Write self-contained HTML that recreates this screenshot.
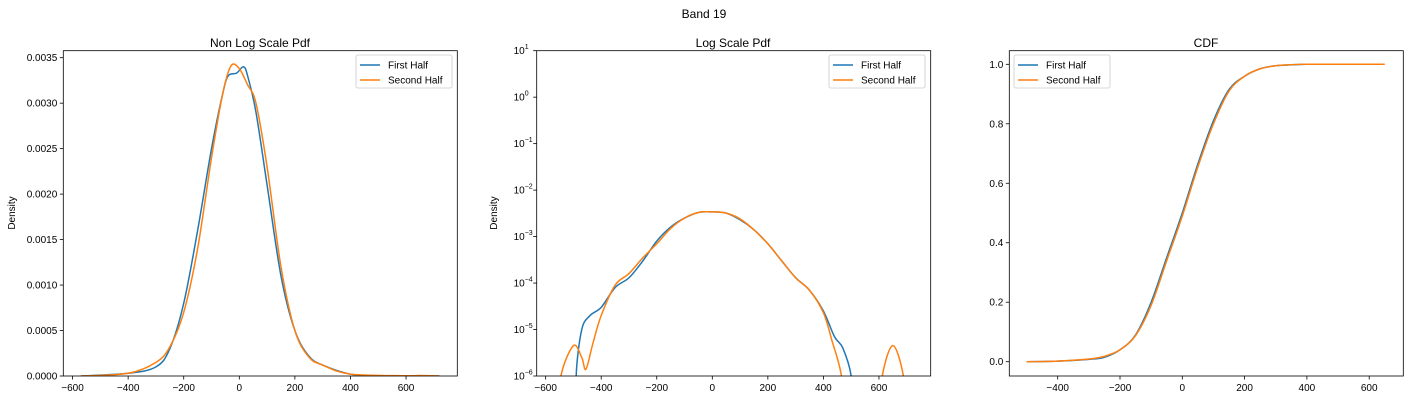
<!DOCTYPE html>
<html><head><meta charset="utf-8"><style>
html,body{margin:0;padding:0;background:#fff;width:1409px;height:400px;overflow:hidden;}
svg{display:block;font-family:"Liberation Sans","DejaVu Sans",sans-serif;}
</style></head><body>
<svg id="fig" width="1409" height="400" viewBox="0 0 1409 400" xmlns="http://www.w3.org/2000/svg">
<text x="704" y="18" font-size="12" text-anchor="middle">Band 19</text>
</svg>
<script>
// Panel 1: non-log pdf
const p1X1=[-570,-400,-300,-250,-200,-150,-100,-60,-40,-10,15,30,60,100,150,200,250,300,400,500,720];
const p1Y1=[0,0.00003,0.0001,0.0003,0.0008,0.0016,0.0025,0.0031,0.0033,0.00333,0.0034,0.0033,0.0029,0.0021,0.0011,0.0005,0.00022,0.00012,0.00002,0.000003,0];
const p1X2=[-570,-400,-300,-250,-200,-150,-100,-60,-30,0,30,60,100,150,200,250,300,400,600,650,720];
const p1Y2=[0,0.00003,0.00015,0.00032,0.0007,0.0014,0.0024,0.0031,0.00341,0.00338,0.0032,0.0030,0.0023,0.0012,0.0005,0.00021,0.00012,0.00002,0.000003,0.000005,0];
const p1XTicks=[-600,-400,-200,0,200,400,600];
const p1YTicks=[0,0.0005,0.001,0.0015,0.002,0.0025,0.003,0.0035];
const p1YLabels=["0.0000","0.0005","0.0010","0.0015","0.0020","0.0025","0.0030","0.0035"];
// Panel 2: log pdf
const p2X1=[-480,-490,-470,-440,-400,-350,-300,-250,-200,-150,-100,-50,0,50,100,150,200,250,300,350,400,440,470,500,510];
const p2Y1=[1e-7,1e-6,1e-5,2e-5,3e-5,8e-5,1.3e-4,3e-4,8e-4,1.6e-3,2.5e-3,3.3e-3,3.4e-3,3.2e-3,2.3e-3,1.4e-3,7e-4,3e-4,1.3e-4,7e-5,2.5e-5,7e-6,4e-6,1e-6,1e-7];
const p2X2=[-555,-545,-500,-470,-455,-430,-400,-350,-300,-250,-200,-150,-100,-50,0,50,100,150,200,250,300,350,400,430,465,475];
const p2Y2=[1e-7,1e-6,4.5e-6,2.5e-6,1.4e-6,5e-6,2e-5,9e-5,1.6e-4,3.5e-4,7e-4,1.5e-3,2.5e-3,3.3e-3,3.4e-3,3.2e-3,2.4e-3,1.4e-3,7e-4,3e-4,1.3e-4,7e-5,2.3e-5,6e-6,1e-6,1e-7];
const p2X3=[600,612,650,688,700];
const p2Y3=[1e-7,1e-6,4.5e-6,1e-6,1e-7];
const p2XTicks=[-600,-400,-200,0,200,400,600];
const p2YExp=[1,0,-1,-2,-3,-4,-5,-6];
// Panel 3: CDF
const p3X1=[-500,-400,-300,-250,-200,-150,-100,-50,0,50,100,150,200,250,300,400,460];
const p3Y1=[0,0.002,0.008,0.015,0.04,0.09,0.2,0.35,0.5,0.665,0.81,0.915,0.96,0.985,0.995,1,1];
const p3X2=[-500,-400,-300,-250,-200,-150,-100,-50,0,50,100,150,200,250,300,400,650];
const p3Y2=[0,0.002,0.009,0.018,0.04,0.088,0.19,0.34,0.49,0.655,0.8,0.91,0.96,0.985,0.995,1,1];
const p3XTicks=[-400,-200,0,200,400,600];
const p3YTicks=[0,0.2,0.4,0.6,0.8,1.0];

const NS="http://www.w3.org/2000/svg";
const fig=document.getElementById('fig');
function mk(tag,attrs,parent){const e=document.createElementNS(NS,tag);for(const k in attrs)e.setAttribute(k,attrs[k]);(parent||fig).appendChild(e);return e;}
function smooth(pts){let d='M'+pts[0][0].toFixed(2)+','+pts[0][1].toFixed(2);
 for(let i=0;i<pts.length-1;i++){const p0=pts[Math.max(0,i-1)],p1=pts[i],p2=pts[i+1],p3=pts[Math.min(pts.length-1,i+2)];
  const c1=[p1[0]+(p2[0]-p0[0])/6,p1[1]+(p2[1]-p0[1])/6],c2=[p2[0]-(p3[0]-p1[0])/6,p2[1]-(p3[1]-p1[1])/6];
  d+=' C'+c1[0].toFixed(2)+','+c1[1].toFixed(2)+' '+c2[0].toFixed(2)+','+c2[1].toFixed(2)+' '+p2[0].toFixed(2)+','+p2[1].toFixed(2);}
 return d;}
function frame(L,T,R,B,id){
 const cp=mk('clipPath',{id:id});mk('rect',{x:L,y:T,width:R-L,height:B-T},cp);
}
function border(L,T,R,B){const r=mk('rect',{x:L,y:T,width:R-L,height:B-T,fill:'none',stroke:'#000','stroke-width':0.8});

}
function xTicks(ticks,sx,B,name){ticks.forEach(t=>{const x=sx(t);mk('line',{x1:x,x2:x,y1:B,y2:B+3.5,stroke:'#000','stroke-width':0.8});
 const tx=mk('text',{x:x,y:B+15,'font-size':10,'text-anchor':'middle'});tx.textContent=(t<0?'\u2212'+(-t):t);
 
 });}
function yTicks(ticks,labels,sy,L,name){ticks.forEach((t,i)=>{const y=sy(t);mk('line',{x1:L-3.5,x2:L,y1:y,y2:y,stroke:'#000','stroke-width':0.8});
 const tx=mk('text',{x:L-6,y:y+3.5,'font-size':10,'text-anchor':'end'});tx.textContent=labels[i];
 
 });}
function series(xs,ys,sx,sy,color,clip,name){const pts=xs.map((x,i)=>[sx(x),sy(ys[i])]);
 const p=mk('path',{d:smooth(pts),fill:'none',stroke:color,'stroke-width':1.5,'clip-path':'url(#'+clip+')'});
 
 }
function legend(x,y,name){const g=mk('g',{});
 
 
 mk('rect',{x:x,y:y,width:96,height:33,rx:2,fill:'#fff',stroke:'#ccc','stroke-width':0.8},g);
 [['First Half','#1f77b4'],['Second Half','#ff7f0e']].forEach((e,i)=>{const yy=y+10+i*15;
  mk('line',{x1:x+4,x2:x+24,y1:yy,y2:yy,stroke:e[1],'stroke-width':1.5},g);
  const t=mk('text',{x:x+32,y:yy+3.5,'font-size':10},g);t.textContent=e[0];});}
function title(x,y,s,name){const t=mk('text',{x:x,y:y,'font-size':12,'text-anchor':'middle'});t.textContent=s;
 
 }
function ylab(x,y,name){const t=mk('text',{x:x,y:y,'font-size':10,'text-anchor':'middle',transform:'rotate(-90 '+x+' '+y+')'});t.textContent='Density';
 
 }

// Panel 1
{const L=63.3,R=457.3,T=50.7,B=376;const sx=v=>239.3+v*(55.58/200);const sy=v=>B-v*((B-57.7)/0.0035);
 frame(L,T,R,B,'c1');series(p1X1,p1Y1,sx,sy,'#1f77b4','c1','first-half-line-pdf');series(p1X2,p1Y2,sx,sy,'#ff7f0e','c1','second-half-line-pdf');
 border(L,T,R,B);xTicks(p1XTicks,sx,B,'pdf');yTicks(p1YTicks,p1YLabels,sy,L,'pdf');
 legend(356,55,'legend-pdf');title(260,47,'Non Log Scale Pdf','title-pdf');ylab(15,213,'y-axis-title-pdf');}
// Panel 2
{const L=536.7,R=930.7,T=50.7,B=376;const sx=v=>712.3+v*(55.55/200);const dec=(B-T)/7;const sy=v=>B-(Math.log10(v)+6)*dec;
 frame(L,T,R,B,'c2');series(p2X1,p2Y1,sx,sy,'#1f77b4','c2','first-half-line-logpdf');series(p2X2,p2Y2,sx,sy,'#ff7f0e','c2','second-half-line-logpdf');series(p2X3,p2Y3,sx,sy,'#ff7f0e','c2','second-half-line-logpdf-bump');
 border(L,T,R,B);xTicks(p2XTicks,sx,B,'logpdf');
 p2YExp.forEach(e=>{const y=sy(Math.pow(10,e));mk('line',{x1:L-3.5,x2:L,y1:y,y2:y,stroke:'#000','stroke-width':0.8});
  const t=mk('text',{x:L-12,y:y+3.5,'font-size':10,'text-anchor':'end'});t.textContent='10';
  
  
  const s=mk('text',{x:L-12,y:y-1.5,'font-size':7,'text-anchor':'start'});s.textContent=(e<0?'\u2212'+(-e):e);});
 legend(829,55,'legend-logpdf');title(733,47,'Log Scale Pdf','title-logpdf');ylab(497,213,'y-axis-title-logpdf');}
// Panel 3
{const L=1009.3,R=1403.3,T=50.7,B=376;const sx=v=>1182.3+v*(62.3/200);const sy=v=>361.7-v*(361.7-64.3);
 frame(L,T,R,B,'c3');series(p3X1,p3Y1,sx,sy,'#1f77b4','c3','first-half-line-cdf');series(p3X2,p3Y2,sx,sy,'#ff7f0e','c3','second-half-line-cdf');
 border(L,T,R,B);xTicks(p3XTicks,sx,B,'cdf');yTicks(p3YTicks,p3YTicks.map(v=>v.toFixed(1)),sy,L,'cdf');
 legend(1014,55,'legend-cdf');title(1206,47,'CDF','title-cdf');}
</script>
</body></html>
